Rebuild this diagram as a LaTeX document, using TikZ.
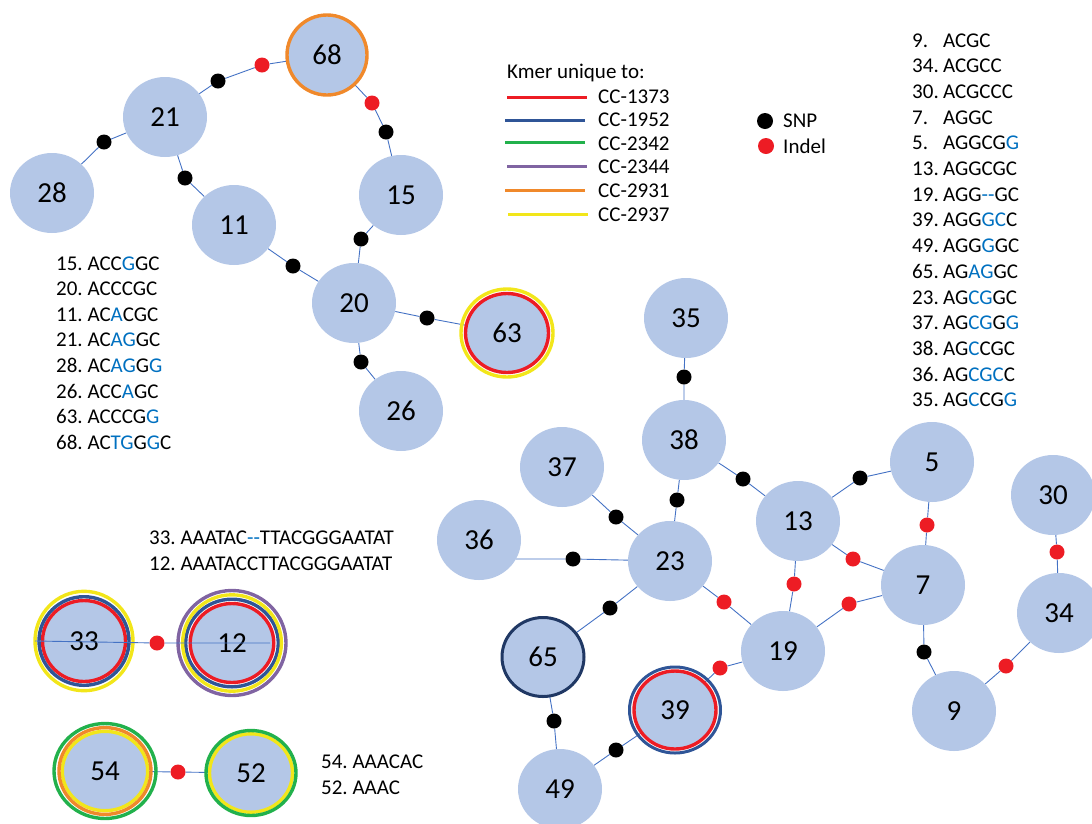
\documentclass[tikz,border=0pt]{standalone}
\usepackage{fontspec}
\setmainfont{Carlito}
\usetikzlibrary{shapes.geometric,calc}
\pgfdeclarelayer{bg}
\pgfsetlayers{bg,main}
\definecolor{nodefill}{HTML}{B4C7E7}
\definecolor{edgeblue}{HTML}{4472C4}
\definecolor{seqblue}{HTML}{0070C0}
\definecolor{cred}{HTML}{ED1C24}
\definecolor{cblue}{HTML}{2F5597}
\definecolor{cgreen}{HTML}{22B14C}
\definecolor{cpurple}{HTML}{8064A2}
\definecolor{corange}{HTML}{F0892B}
\definecolor{cyellow}{HTML}{F2E61A}
\definecolor{cnavy}{HTML}{203864}
\newcommand\labfont{\fontsize{29}{33}\selectfont}
\newcommand\listfont{\fontsize{21}{25}\selectfont\frenchspacing}
\newcommand\bl[1]{\textcolor{seqblue}{#1}}
\frenchspacing
\begin{document}
\begin{tikzpicture}[x=1pt,y=-1pt,
  nd/.style={ellipse, fill=nodefill, inner sep=0pt, minimum width=84pt, minimum height=80pt, font=\labfont},
  snp/.style={circle, fill=black, inner sep=0pt, minimum size=15pt},
  indel/.style={circle, fill=cred, inner sep=0pt, minimum size=15pt},
  edge/.style={edgeblue, line width=0.9pt},
  rw/.style={line width=3.4pt},
  tx/.style={anchor=base west, inner sep=0pt, font=\listfont},
  swatch/.style={line width=3pt}]
\useasboundingbox (0,0) rectangle (1092,823);
\clip (0,0) rectangle (1092,823);

% ---------- top-left graph ----------
\node[nd, minimum width=80pt, minimum height=80pt] (n68) at (327,55) {68};
\node[nd] (n21) at (165,117) {21};
\node[nd] (n28) at (52,193) {28};
\node[nd] (n11) at (234,225) {11};
\node[nd] (n15) at (401,195) {15};
\node[nd] (n20) at (354,303) {20};
\node[nd, minimum width=82pt, minimum height=78pt] (n63) at (507,333) {63};
\node[nd] (n26) at (401,411) {26};

\node[snp] (a1) at (104,142) {};
\node[snp] (a2) at (218,81) {};
\node[indel] (a3) at (262,65) {};
\node[snp] (a4) at (185,178) {};
\node[indel] (a5) at (372,103) {};
\node[snp] (a6) at (386,132) {};
\node[snp] (a7) at (361,239) {};
\node[snp] (a8) at (293,266) {};
\node[snp] (a9) at (427,318) {};
\node[snp] (a10) at (361,362) {};

% ---------- right graph ----------
\node[nd] (n35) at (686,318) {35};
\node[nd] (n38) at (684,440) {38};
\node[nd] (n37) at (562,467) {37};
\node[nd] (n36) at (479,540) {36};
\node[nd] (n23) at (670,561) {23};
\node[nd] (n13) at (798,521) {13};
\node[nd] (n5) at (932,462) {5};
\node[nd] (n30) at (1053,495) {30};
\node[nd] (n7) at (923,585) {7};
\node[nd] (n34) at (1059,613) {34};
\node[nd] (n19) at (783,651) {19};
\node[nd, minimum width=82pt, minimum height=79pt] (n65) at (543,657) {65};
\node[nd, minimum width=82pt, minimum height=78pt] (n39) at (675,710) {39};
\node[nd] (n9) at (954,711) {9};
\node[nd] (n49) at (560,789) {49};

\node[snp] (b1) at (684,377) {};
\node[snp] (b2) at (677,500) {};
\node[snp] (b3) at (743,479) {};
\node[snp] (b4) at (616,517) {};
\node[snp] (b5) at (573,559) {};
\node[snp] (b6) at (860,478) {};
\node[indel] (b7) at (927,525) {};
\node[indel] (b8) at (853,559) {};
\node[indel] (b9) at (794,584) {};
\node[indel] (b10) at (724,602) {};
\node[indel] (b11) at (849,604) {};
\node[snp] (b12) at (610,608) {};
\node[indel] (b13) at (720,668) {};
\node[snp] (b14) at (924,652) {};
\node[indel] (b15) at (1057,552) {};
\node[indel] (b16) at (1006,666) {};
\node[snp] (b17) at (554,721) {};
\node[snp] (b18) at (616,750) {};

% ---------- bottom-left pairs ----------
\node[nd, minimum width=82pt, minimum height=80pt] (n33) at (84,641) {33};
\node[nd, minimum width=83pt, minimum height=79pt] (n12) at (232,643) {12};
\node[nd, minimum width=85pt, minimum height=79pt] (n54) at (105,771) {54};
\node[nd, minimum width=82pt, minimum height=78pt] (n52) at (251,773) {52};
\node[indel] (c1) at (157,643) {};
\node[indel] (c2) at (178,772) {};
\coordinate (e33) at (35,641);
\coordinate (e12) at (270,643);

% ---------- edges (behind nodes) ----------
\begin{pgfonlayer}{bg}
\draw[edge] (n28) -- (a1) -- (n21);
\draw[edge] (n21) -- (a2) -- (a3) -- (n68);
\draw[edge] (n21) -- (a4) -- (n11);
\draw[edge] (n68) -- (a5) -- (a6) -- (n15);
\draw[edge] (n15) -- (a7) -- (n20);
\draw[edge] (n11) -- (a8) -- (n20);
\draw[edge] (n20) -- (a9) -- (n63);
\draw[edge] (n20) -- (a10) -- (n26);
\draw[edge] (n35) -- (b1) -- (n38);
\draw[edge] (n38) -- (b2) -- (n23);
\draw[edge] (n38) -- (b3) -- (n13);
\draw[edge] (n37) -- (b4) -- (n23);
\draw[edge] (n36.-27) -- (b5) -- (n23);
\draw[edge] (n13) -- (b6) -- (n5);
\draw[edge] (n5) -- (b7) -- (n7);
\draw[edge] (n13) -- (b8) -- (n7);
\draw[edge] (n13) -- (b9) -- (n19);
\draw[edge] (n23) -- (b10) -- (n19);
\draw[edge] (n19) -- (b11) -- (n7);
\draw[edge] (n23) -- (b12) -- (n65);
\draw[edge] (n19) -- (b13) -- (n39);
\draw[edge] (n7) -- (b14) -- (n9);
\draw[edge] (n30) -- (b15) -- (n34);
\draw[edge] (n9) -- (b16) -- (n34);
\draw[edge] (n65) -- (b17) -- (n49);
\draw[edge] (n49) -- (b18) -- (n39);
\draw[edge] (n54) -- (c2) -- (n52);
\end{pgfonlayer}

% ---------- rings ----------
\draw[corange, rw] (n68.center) ellipse [x radius=40pt, y radius=40pt];
\draw[cred, rw] (n63.center) ellipse [x radius=41.5pt, y radius=39.5pt];
\draw[cyellow, rw] (n63.center) ellipse [x radius=46pt, y radius=44pt];
\draw[cnavy, line width=3pt] (n65.center) ellipse [x radius=41pt, y radius=39.5pt];
\draw[cred, rw] (n39.center) ellipse [x radius=41pt, y radius=39pt];
\draw[cblue, line width=3pt] (n39.center) ellipse [x radius=45.5pt, y radius=43pt];

\draw[cred, rw] (n33.center) ellipse [x radius=41.5pt, y radius=40.5pt];
\draw[cblue, rw] (n33.center) ellipse [x radius=45pt, y radius=44.3pt];
\draw[cyellow, rw] (n33.center) ellipse [x radius=49pt, y radius=49.7pt];

\draw[cred, rw] (n12.center) ellipse [x radius=41.8pt, y radius=39.5pt];
\draw[cblue, rw] (n12.center) ellipse [x radius=46.3pt, y radius=43.8pt];
\draw[cyellow, rw] (n12.center) ellipse [x radius=49.4pt, y radius=48.2pt];
\draw[cpurple, rw] (n12.center) ellipse [x radius=54pt, y radius=52.5pt];

\draw[cyellow, rw] (n54.center) ellipse [x radius=42.7pt, y radius=39.7pt];
\draw[corange, rw] (n54.center) ellipse [x radius=46pt, y radius=43.4pt];
\draw[cgreen, rw] (n54.center) ellipse [x radius=51pt, y radius=47.5pt];

\draw[cyellow, rw] (n52.center) ellipse [x radius=41.5pt, y radius=39.2pt];
\draw[cgreen, rw] (n52.center) ellipse [x radius=45pt, y radius=42.5pt];

% line drawn across 33 and 12
\draw[edge] (e33) -- (c1) -- (e12);

% ---------- texts ----------
\foreach \s [count=\i] in {15. ACC\bl{G}GC, 20. ACCCGC, 11. AC\bl{A}CGC, 21. AC\bl{AG}GC,
  28. AC\bl{AG}G\bl{G}, 26. ACC\bl{A}GC, 63. ACCCG\bl{G}, 68. AC\bl{TG}G\bl{G}C}
  \node[tx] (l\i) at (56,{270+25.6*(\i-1)}) {\s};

\foreach \n/\s [count=\i] in {9./ACGC, 34./ACGCC, 30./ACGCCC, 7./AGGC, 5./AGGCG\bl{G},
  13./AGGCGC, 19./AGG\bl{-{}-}GC, 39./AGG\bl{GC}C, 49./AGG\bl{G}GC, 65./AG\bl{AG}GC,
  23./AG\bl{CG}GC, 37./AG\bl{CG}G\bl{G}, 38./AG\bl{C}CGC, 36./AG\bl{CGC}C, 35./AG\bl{C}CG\bl{G}}
  {
  \node[tx] (rn\i) at (912,{47+25.7*(\i-1)}) {\n};
  \node[tx] (rs\i) at (943,{47+25.7*(\i-1)}) {\s};
  }

\node[tx] (s33) at (149,544) {33. AAATAC\bl{-{}-}TTACGGGAATAT};
\node[tx] (s12) at (149,570) {12. AAATACCTTACGGGAATAT};
\node[tx] (s54) at (321,768) {54. AAACAC};
\node[tx] (s52) at (321,794) {52. AAAC};

% ---------- legend ----------
\node[tx] (kmer) at (507,78) {Kmer unique to:};
\draw[cred, swatch] (507,97.5) -- (587,97.5);
\draw[cblue, swatch] (505,120.3) -- (585,120.3);
\draw[cgreen, swatch] (505,142) -- (585,142);
\draw[cpurple, swatch] (507,166.3) -- (587,166.3);
\draw[corange, swatch] (505,190.7) -- (585,190.7);
\draw[cyellow, swatch] (508,214) -- (588,214);
\node[tx] (g1) at (598,103.3) {CC-1373};
\node[tx] (g2) at (598,126.7) {CC-1952};
\node[tx] (g3) at (598,150) {CC-2342};
\node[tx] (g4) at (598,173.5) {CC-2344};
\node[tx] (g5) at (598,197.7) {CC-2931};
\node[tx] (g6) at (598,221) {CC-2937};
\node[snp, minimum size=16pt] (ksnp) at (765,121) {};
\node[indel, minimum size=16pt] (kindel) at (766,146) {};
\node[tx] (tsnp) at (783,127) {SNP};
\node[tx] (tindel) at (783,153) {Indel};
\end{tikzpicture}
\end{document}
